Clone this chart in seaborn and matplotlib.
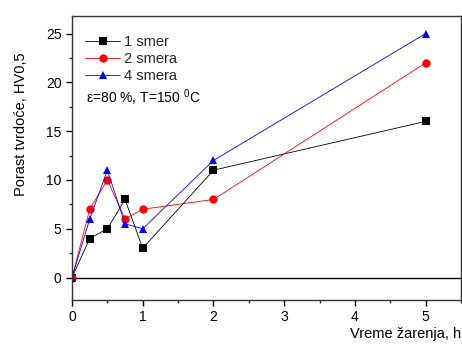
import matplotlib
matplotlib.use("Agg")
import matplotlib.pyplot as plt
import seaborn as sns
import pandas as pd
from matplotlib.ticker import MultipleLocator

time_h = [0, 0.25, 0.5, 0.75, 1, 2, 5]
smer1 = [0, 4, 5, 8, 3, 11, 16]
smera2 = [0, 7, 10, 6, 7, 8, 22]
smera4 = [0, 6, 11, 5.5, 5, 12, 25]
series_names = ["1 smer", "2 smera", "4 smera"]

df = pd.DataFrame({
    "t": time_h * 3,
    "v": smer1 + smera2 + smera4,
    "s": [series_names[0]] * 7 + [series_names[1]] * 7 + [series_names[2]] * 7,
})

sns.set_theme(style="white")
plt.rcParams['font.family'] = ['Liberation Sans', 'DejaVu Sans']
plt.rcParams['mathtext.fontset'] = 'custom'
plt.rcParams['mathtext.rm'] = 'Liberation Sans'

fig = plt.figure(figsize=(4.62, 3.47), dpi=100)
ax = fig.add_axes([72/462, 1 - 300/347, (461-72)/462, (300-16)/347])

colors = {"1 smer": "black", "2 smera": "red", "4 smera": "blue"}
markers = {"1 smer": "s", "2 smera": "o", "4 smera": "^"}
sns.lineplot(data=df, x="t", y="v", hue="s", style="s", palette=colors,
             markers=markers, dashes=False, linewidth=0.6, markersize=6,
             markeredgewidth=0, ax=ax)

ax.axhline(0, color="black", linewidth=1.0, zorder=0)
ax.set_xlim(0, 5.5)
ax.set_ylim(-2.3, 26.8)
ax.xaxis.set_major_locator(MultipleLocator(1))
ax.xaxis.set_minor_locator(MultipleLocator(0.5))
ax.yaxis.set_major_locator(MultipleLocator(5))
ax.yaxis.set_minor_locator(MultipleLocator(2.5))
ax.tick_params(axis="both", which="major", direction="out", length=4, width=1,
               labelsize=10, colors="black", bottom=True, left=True)
ax.tick_params(axis="both", which="minor", direction="out", length=2.5, width=1,
               bottom=True, left=True)
for sp in ax.spines.values():
    sp.set_color("#333333")
    sp.set_linewidth(1.0)

ax.set_xlabel("Vreme žarenja, h", fontsize=10.5, color="black")
ax.xaxis.set_label_coords(1.0, -0.095)
ax.xaxis.label.set_horizontalalignment("right")
ax.set_ylabel("Porast tvrdoće, HV0,5", fontsize=10.5, color="black")
ax.yaxis.set_label_coords(-0.112, 0.62)

leg = ax.legend(loc="upper left", bbox_to_anchor=(0.0, 0.98), frameon=False,
                fontsize=10.5, handlelength=2.4, handletextpad=0.3,
                labelspacing=0.2, borderaxespad=0.5)
ax.text(0.035, 0.695, r"ε=80 %, T=150 $^{0}$C", transform=ax.transAxes,
        fontsize=10, color="black")

fig.savefig("out.png", dpi=100)
